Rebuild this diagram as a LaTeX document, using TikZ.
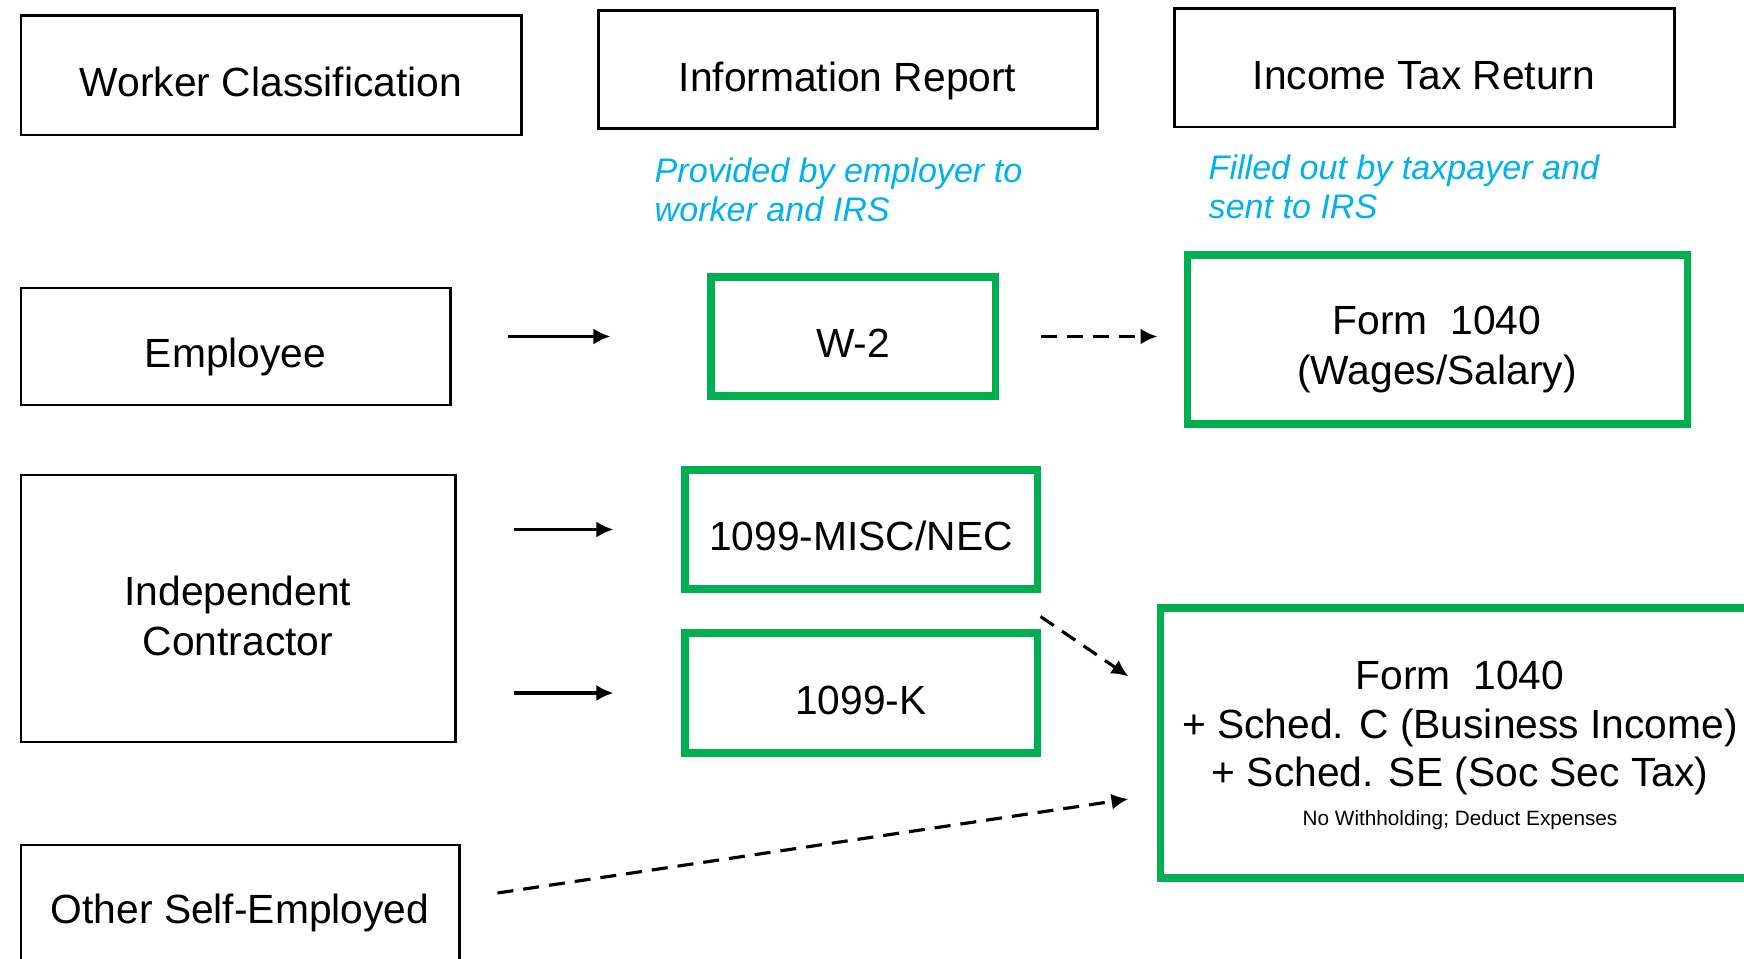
\documentclass[tikz,border=0pt]{standalone}
\usepackage{fontspec}
\setmainfont{Liberation Sans}
\usetikzlibrary{positioning, calc, arrows.meta}

\definecolor{formgruen}{RGB}{0,176,80}
\definecolor{hinweisblau}{RGB}{0,176,240}

\begin{document}
\begin{tikzpicture}[
    box/.style={draw=black, line width=0.85pt, inner sep=0pt, align=center,
      text depth=0pt, font=\fontsize{11.6}{14.2}\selectfont},
    formular/.style={box, draw=formgruen, line width=2pt},
    textlage/.style={text height=#1},
    textlage/.default=12.1pt,
    hinweis/.style={inner sep=0pt, align=left, text=hinweisblau,
      font=\fontsize{9.7}{11.1}\selectfont\itshape},
    pfeil/.style={line width=0.9pt, -{Latex[length=1.7mm, width=1.6mm]}},
    strich/.style={pfeil, dash pattern=on 1.6mm off 1mm}
  ]
      % Rahmen des Bildes
      \path[use as bounding box] (0,0) rectangle (17.44,9.58);
      \clip (0,0) rectangle (17.44,9.58);

      % Kopfzeile mit den drei Spalten
      \node[box, textlage, minimum width=5cm, minimum height=1.19cm] (klasse) at (2.71,8.825) {Worker Classification};
      \node[box, textlage, minimum width=4.99cm, minimum height=1.18cm] (bericht) at (8.475,8.88) {Information Report};
      \node[box, textlage, minimum width=5cm, minimum height=1.18cm] (erklaerung) at (14.24,8.90) {Income Tax Return};

      % Blaue Hinweise unter den Spalten
      \node[hinweis, anchor=west] (hbericht) at (6.54,7.685) {Provided by employer to\\worker and IRS};
      \node[hinweis, anchor=west] (herklaerung) at (12.08,7.71) {Filled out by taxpayer and\\sent to IRS};

      % Arbeitnehmer
      \node[box, textlage, minimum width=4.29cm, minimum height=1.17cm] (employee) at (2.355,6.115) {Employee};
      \node[formular, textlage, minimum width=2.84cm, minimum height=1.19cm] (w2) at (8.53,6.215) {W-2};
      \node[formular, textlage=25.8pt, minimum width=5cm, minimum height=1.69cm] (lohn) at (14.37,6.185) {Form\ \ 1040\\(Wages/Salary)};

      % Selbststaendige
      \node[box, textlage=26.6pt, minimum width=4.34cm, minimum height=2.67cm] (contractor) at (2.38,3.495) {Independent\\Contractor};
      \node[formular, textlage, minimum width=3.52cm, minimum height=1.19cm] (misc) at (8.61,4.285) {1099-MISC/NEC};
      \node[formular, textlage, minimum width=3.52cm, minimum height=1.2cm] (k) at (8.61,2.65) {1099-K};
      \node[formular, minimum width=6cm, minimum height=2.7cm, font=\fontsize{11.6}{13.9}\selectfont] (gewerbe) at (14.60,2.15)
        {Form\ \ 1040\\+ Sched. C (Business Income)\\+ Sched. SE (Soc Sec Tax)\\[-3pt]{\fontsize{5.9}{7}\selectfont No Withholding; Deduct Expenses}};
      \node[box, minimum width=4.38cm, minimum height=1.28cm] (sonstige) at (2.40,0.49) {Other Self-Employed};

      % Pfeile
      \draw[pfeil, shorten <=0.56cm, shorten >=0.97cm] (employee.east |- w2.west) -- (w2.west);
      \draw[strich, shorten <=0.42cm, shorten >=0.26cm] (w2.east) -- (w2.east -| lohn.west);
      \draw[pfeil, shorten <=0.57cm, shorten >=0.68cm] (contractor.east |- misc.west) -- (misc.west);
      \draw[pfeil, shorten <=0.57cm, shorten >=0.68cm] (contractor.east |- k.west) -- (k.west);
      \draw[strich] ($(misc.south east)+(0,-0.24)$) -- ($(gewerbe.north west)+(-0.28,-0.72)$);
      \draw[strich] ($(sonstige.east)+(0.37,0.16)$) -- ($(gewerbe.west)+(-0.28,-0.56)$);
    \end{tikzpicture}
\end{document}
